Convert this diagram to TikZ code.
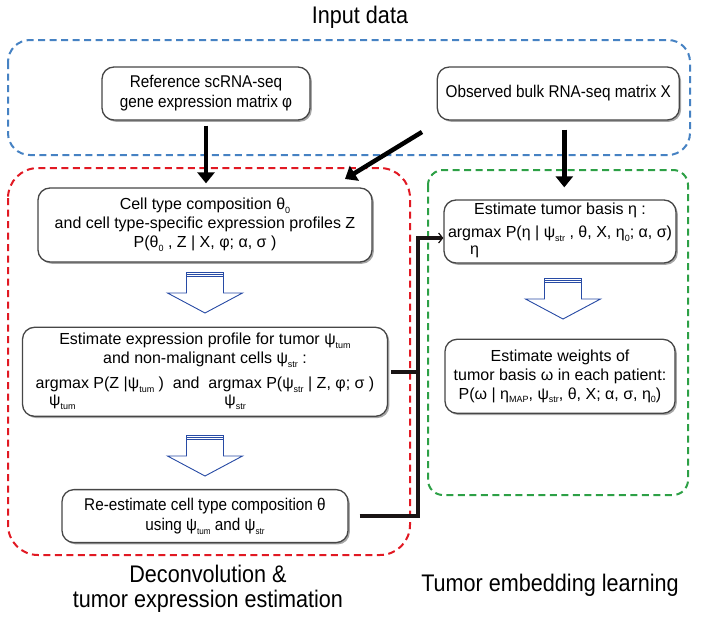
\documentclass[tikz,border=0pt]{standalone}
\usepackage{fontspec}
\setmainfont{Liberation Sans}
\newfontfamily\narrowfont[FakeStretch=0.9]{Liberation Sans}
\usetikzlibrary{arrows.meta,positioning,shadows,backgrounds}
\definecolor{boxbdr}{RGB}{70,70,70}
\definecolor{inpclr}{RGB}{70,130,195}
\definecolor{decclr}{RGB}{225,25,35}
\definecolor{embclr}{RGB}{45,160,70}
\definecolor{lineclr}{RGB}{25,20,20}
\definecolor{hollowclr}{RGB}{40,75,165}
\newcommand\lo[1]{\raisebox{-0.45ex}{\fontsize{9}{9}\selectfont #1}}
\newcommand\amax[1]{\begin{tabular}[t]{@{}c@{}}argmax\\[-2pt]#1\end{tabular}}
\tikzset{
  pbox/.style={rectangle,rounded corners=12pt,draw=boxbdr,line width=1.3pt,fill=white,
    drop shadow={shadow xshift=1.8pt,shadow yshift=-1.8pt,fill=black,opacity=0.35},
    font=\fontsize{16}{19}\selectfont,align=center,inner sep=2pt},
  nbox/.style={pbox,font=\narrowfont\fontsize{17}{20}\selectfont},
  grpbox/.style={dash pattern=on 7pt off 4.5pt,line width=2pt},
  blk/.style={line width=4.5pt,draw=black,-{Triangle[width=17pt,length=11pt]}},
  conn/.style={line width=3.5pt,draw=lineclr},
  hollow/.style={draw=hollowclr,line width=0.9pt,fill=white},
  ttl/.style={font=\narrowfont\fontsize{24}{25}\selectfont,align=center},
  downarr/.pic={
    \draw[hollow] (-18.5,4) -- (-18.5,21) -- (-37.5,21) -- (0,41) -- (37.5,21)
      -- (18.5,21) -- (18.5,4) -- cycle;
    \draw[hollow] (-18.5,0) rectangle (18.5,4);
    \draw[hollow,line width=0.6pt] (-18.5,2) -- (18.5,2);
  },
}
\begin{document}
\begin{tikzpicture}[x=1pt,y=-1pt]
  \useasboundingbox (0,0) rectangle (701,621);
  % group frames
  \draw[grpbox,draw=inpclr,rounded corners=22pt] (8,40) rectangle (690,155);
  \draw[grpbox,draw=decclr,rounded corners=30pt] (8,168) rectangle (410,555);
  \draw[grpbox,draw=embclr,rounded corners=15pt] (428,170) rectangle (688,495);

  \node[ttl] (tin) at (360,17) {Input data};
  \node[nbox,minimum width=208pt,minimum height=53pt] (ref) at (206,93.5)
    {Reference scRNA-seq\\gene expression matrix φ};
  \node[nbox,minimum width=242pt,minimum height=53pt,right=126pt of ref] (obs)
    {Observed bulk RNA-seq matrix X};

  \node[pbox,minimum width=334pt,minimum height=74pt] (cmp) at (205,225)
    {Cell type composition θ\lo{0}\\and cell type-specific expression profiles Z\\P(θ\lo{0} , Z | X, φ; α, σ )};
  \node[pbox,minimum width=365pt,minimum height=89pt,below=64pt of cmp] (prf)
    {Estimate expression profile for tumor ψ\lo{tum}\\and non-malignant cells ψ\lo{str} :\\[6pt]
     \amax{ψ\lo{tum}} P(Z |ψ\lo{tum} )\ \ and\ \ \amax{ψ\lo{str}}\ P(ψ\lo{str} | Z, φ; σ )};
  \node[nbox,minimum width=286pt,minimum height=53pt,below=72pt of prf] (rst)
    {Re-estimate cell type composition θ\\using ψ\lo{tum} and ψ\lo{str}};

  \node[pbox,minimum width=232pt,minimum height=63pt] (bas) at (560,231.5)
    {Estimate tumor basis η :\\[4pt]\amax{η} P(η | ψ\lo{str} , θ, X, η\lo{0}; α, σ)};
  \node[pbox,minimum width=230pt,minimum height=74pt,below=75pt of bas] (wgt)
    {Estimate weights of\\tumor basis ω in each patient:\\P(ω | η\lo{MAP}, ψ\lo{str}, θ, X; α, σ, η\lo{0})};

  \pic (h1) at (205,272) {downarr};
  \pic (h2) at (205,435) {downarr};
  \pic (h3) at (563,278) {downarr};

  \draw[blk,shorten <=5pt,shorten >=4pt] (ref.south) -- (ref.south |- cmp.north);
  \coordinate (dsrc) at (422,132);
  \coordinate (dtip) at (345,179);
  \draw[blk] (dsrc) -- (dtip);
  \draw[blk,shorten <=9pt,shorten >=12pt] ([xshift=6pt]obs.south) -- ([xshift=6pt]obs.south |- bas.north);

  \coordinate (bus) at (418,0);
  \draw[conn,-{Straight Barb[length=4pt,width=10pt,line width=1.2pt]}]
    ([xshift=11pt]rst.east) -- (rst.east -| bus) |- ([yshift=-6.5pt]bas.west);
  \draw[conn] ([xshift=3pt]prf.east) -- (prf.east -| bus);

  \node[ttl] (tdec) at (208,589) {Deconvolution \&\\tumor expression estimation};
  \node[ttl] (temb) at (550,585) {Tumor embedding learning};
\end{tikzpicture}
\end{document}
